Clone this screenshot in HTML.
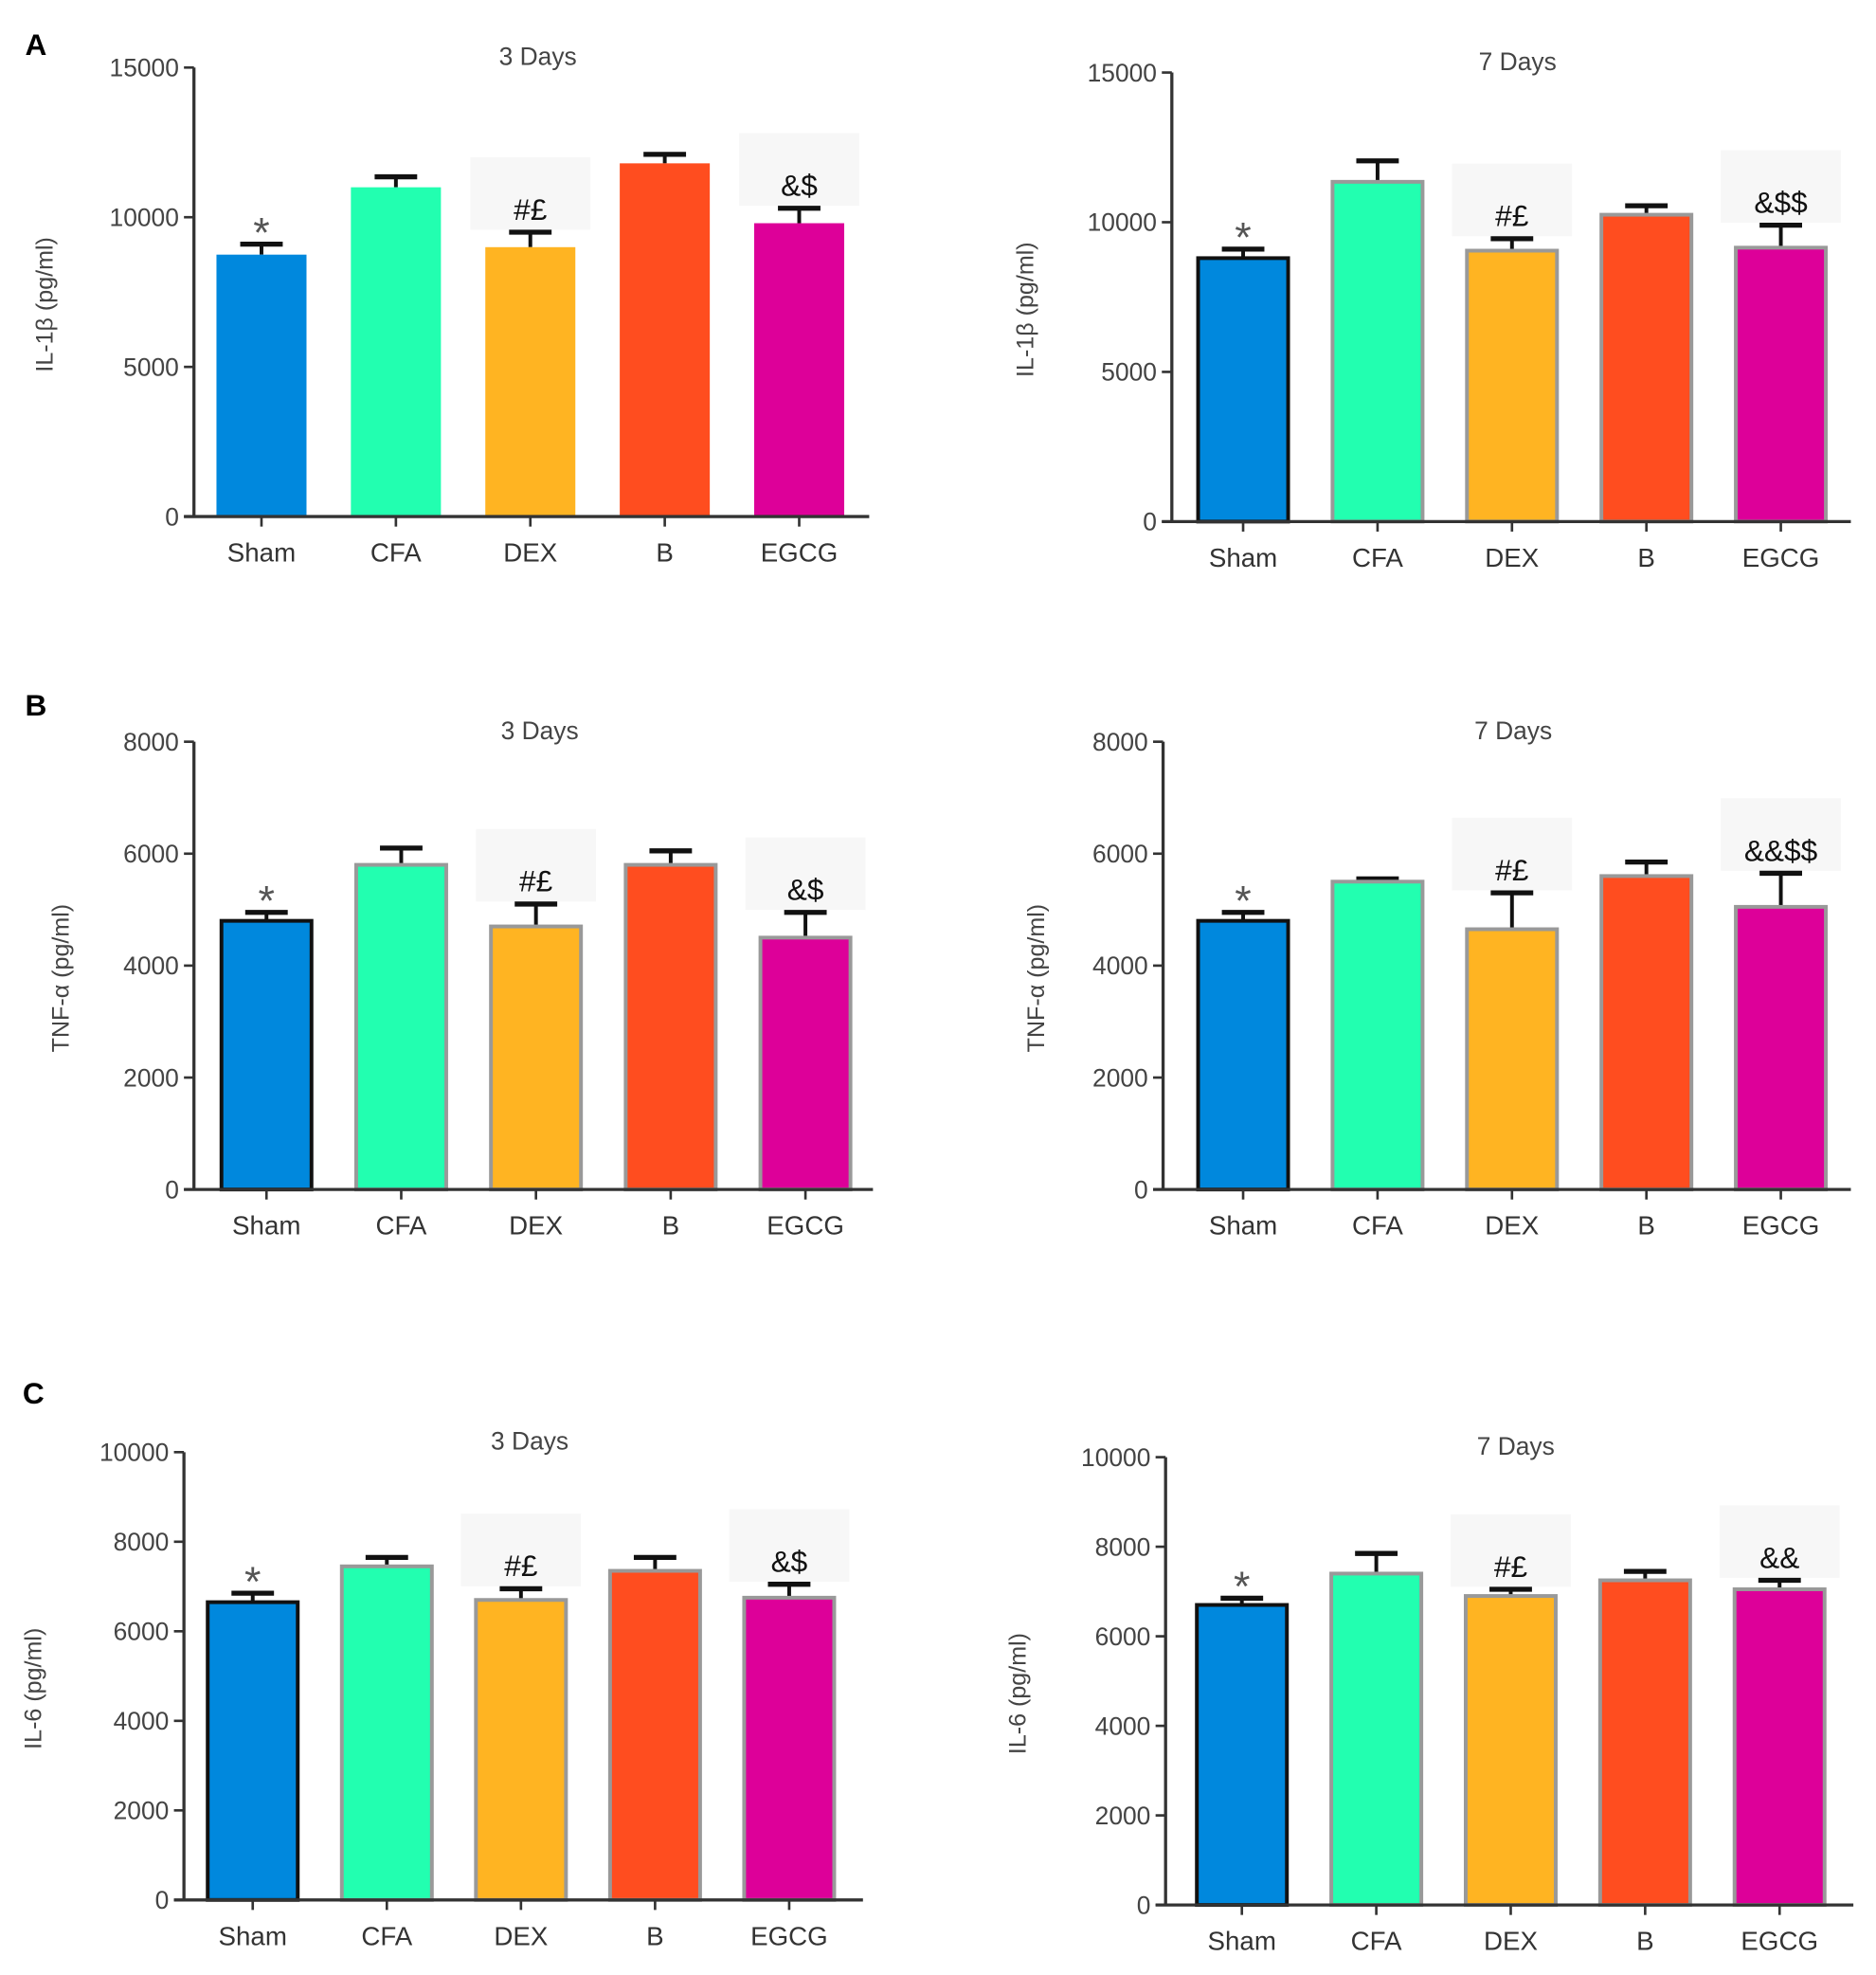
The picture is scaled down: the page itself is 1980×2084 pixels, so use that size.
<!DOCTYPE html>
<html><head><meta charset="utf-8"><style>body{margin:0;background:#fff}svg{display:block}text{font-family:"Liberation Sans",sans-serif}</style></head>
<body>
<svg id="fig" width="1980" height="2084" viewBox="0 0 1500 1579" xmlns="http://www.w3.org/2000/svg">
<text x="20" y="44" font-size="24" font-weight="bold">A</text>
<text x="20" y="572" font-size="24" font-weight="bold">B</text>
<text x="18" y="1122" font-size="24" font-weight="bold">C</text>
</svg>
<script>
const categories = ["Sham","CFA","DEX","B","EGCG"];
const a3Values = [8750,11000,9000,11800,9800];
const a3Errors = [350,350,500,300,500];
const a7Values = [8800,11350,9050,10250,9150];
const a7Errors = [300,700,400,300,750];
const b3Values = [4800,5800,4700,5800,4500];
const b3Errors = [150,300,400,250,450];
const b7Values = [4800,5500,4650,5600,5050];
const b7Errors = [150,50,650,250,600];
const c3Values = [6650,7450,6700,7350,6750];
const c3Errors = [200,200,250,300,300];
const c7Values = [6700,7400,6900,7250,7050];
const c7Errors = [150,450,150,200,200];
const ticksA = [0,5000,10000,15000];
const ticksB = [0,2000,4000,6000,8000];
const ticksC = [0,2000,4000,6000,8000,10000];
const colors = ["#0088dd","#22ffb0","#ffb422","#ff4d1f","#dd0099"];
const sigA3 = ["*","","#£","","&$"];
const sigA7 = ["*","","#£","","&$$"];
const sigB3 = ["*","","#£","","&$"];
const sigB7 = ["*","","#£","","&&$$"];
const sigC3 = ["*","","#£","","&$"];
const sigC7 = ["*","","#£","","&&"];

const svg = document.getElementById('fig');
const NS = "http://www.w3.org/2000/svg";
function mk(tag, attrs, parent){const e=document.createElementNS(NS,tag);for(const k in attrs)e.setAttribute(k,attrs[k]);(parent||svg).appendChild(e);return e;}

const panels = [
 {id:"a-3d",vals:a3Values,errs:a3Errors,ticks:ticksA,max:15000,ax:155,yTop:54,y0:413,xEnd:695,c0:209,step:107.5,title:"3 Days",ylab:"IL-1β (pg/ml)",ylx:42,sig:sigA3,border:false},
 {id:"a-7d",vals:a7Values,errs:a7Errors,ticks:ticksA,max:15000,ax:937,yTop:58,y0:417,xEnd:1480,c0:994,step:107.5,title:"7 Days",ylab:"IL-1β (pg/ml)",ylx:826,sig:sigA7,border:true},
 {id:"b-3d",vals:b3Values,errs:b3Errors,ticks:ticksB,max:8000,ax:155,yTop:593,y0:951,xEnd:698,c0:213,step:107.75,title:"3 Days",ylab:"TNF-α (pg/ml)",ylx:55,sig:sigB3,border:true},
 {id:"b-7d",vals:b7Values,errs:b7Errors,ticks:ticksB,max:8000,ax:930,yTop:593,y0:951,xEnd:1480,c0:994,step:107.5,title:"7 Days",ylab:"TNF-α (pg/ml)",ylx:835,sig:sigB7,border:true},
 {id:"c-3d",vals:c3Values,errs:c3Errors,ticks:ticksC,max:10000,ax:147,yTop:1161,y0:1519,xEnd:690,c0:202,step:107.25,title:"3 Days",ylab:"IL-6 (pg/ml)",ylx:33,sig:sigC3,border:true},
 {id:"c-7d",vals:c7Values,errs:c7Errors,ticks:ticksC,max:10000,ax:932,yTop:1165,y0:1523,xEnd:1482,c0:993,step:107.5,title:"7 Days",ylab:"IL-6 (pg/ml)",ylx:820,sig:sigC7,border:true}
];

panels.forEach(p=>{
  const g = mk('g',{});
  
  
  const y = v => p.y0 - (v/p.max)*(p.y0-p.yTop);
  const x = i => p.c0 + i*p.step;
  const bw = 72;
  p.vals.forEach((v,i)=>{
    const e = p.errs[i];
    const ey = y(v+e);
    if(p.sig[i] && i>0){
      const bg = mk('rect',{x:x(i)-48,y:ey-60,width:96,height:58,fill:'#f7f7f7'},g);
      
      
    }
  });
  p.vals.forEach((v,i)=>{
    const e = p.errs[i];
    const ey = y(v+e);
    const eb = mk('g',{},g);
    
    
    mk('line',{x1:x(i),x2:x(i),y1:y(v),y2:ey,stroke:'#111','stroke-width':3},eb);
    mk('line',{x1:x(i)-17,x2:x(i)+17,y1:ey,y2:ey,stroke:'#111','stroke-width':4},eb);
    const stroke = !p.border ? 'none' : (i===0 ? '#111' : '#999');
    const r = mk('rect',{x:x(i)-bw/2,y:y(v),width:bw,height:p.y0-y(v),fill:colors[i],stroke:stroke,'stroke-width':p.border?3:0},g);
    
    
    if(p.sig[i]){
      const t = mk('text',{x:x(i),y:i===0?ey+2:ey-10,'font-size':i===0?34:24,'text-anchor':'middle',fill:i===0?'#555':'#111'},g);
      t.textContent = p.sig[i];
      
      
    }
    mk('line',{x1:x(i),x2:x(i),y1:p.y0,y2:p.y0+8,stroke:'#333','stroke-width':2},g);
    const lab = mk('text',{x:x(i),y:p.y0+36,'font-size':21,'text-anchor':'middle',fill:'#333'},g);
    lab.textContent = categories[i];
    
    
  });
  const ya = mk('line',{x1:p.ax,x2:p.ax,y1:p.yTop,y2:p.y0+1,stroke:'#333','stroke-width':2.5},g);
  
  
  const xa = mk('line',{x1:p.ax-8,x2:p.xEnd,y1:p.y0,y2:p.y0,stroke:'#333','stroke-width':2.5},g);
  
  
  p.ticks.forEach(t=>{
    mk('line',{x1:p.ax-8,x2:p.ax,y1:y(t),y2:y(t),stroke:'#333','stroke-width':2},g);
    const tl = mk('text',{x:p.ax-12,y:y(t)+7,'font-size':20,'text-anchor':'end',fill:'#444'},g);
    tl.textContent = t;
    
    
  });
  const tt = mk('text',{x:(p.ax+p.xEnd)/2+5,y:p.yTop-2,'font-size':20,'text-anchor':'middle',fill:'#444'},g);
  tt.textContent = p.title;
  
  
  const cy = (p.yTop+p.y0)/2 + 10;
  const yl = mk('text',{x:p.ylx,y:cy,'font-size':19,'text-anchor':'middle',fill:'#444',transform:`rotate(-90 ${p.ylx} ${cy})`},g);
  yl.textContent = p.ylab;
  
  
});
</script>
</body></html>
